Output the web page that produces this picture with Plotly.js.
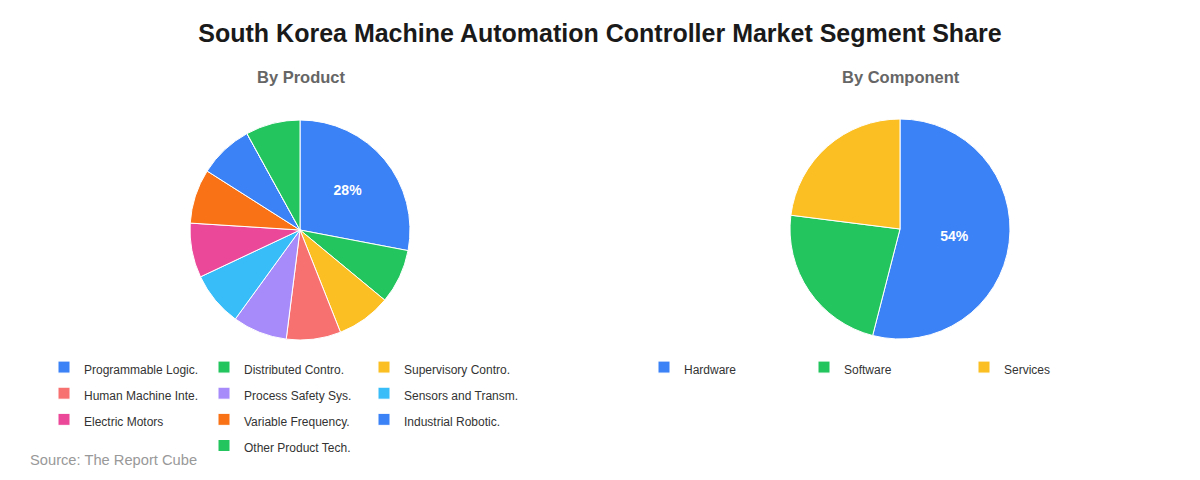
<!DOCTYPE html>
<html>
<head>
<meta charset="utf-8">
<script src="https://cdn.plot.ly/plotly-3.0.1.min.js"></script>
<style>html,body{margin:0;padding:0;background:#fff;}#chart{width:1200px;height:480px;}</style>
</head>
<body>
<div id="chart"></div>
<script>
const productLabels = ["Programmable Logic.", "Distributed Contro.", "Supervisory Contro.", "Human Machine Inte.", "Process Safety Sys.", "Sensors and Transm.", "Electric Motors", "Variable Frequency.", "Industrial Robotic.", "Other Product Tech."];
const productValues = [28, 8, 8, 8, 8, 8, 8, 8, 8, 8];
const productColors = ["#3b82f6", "#22c55e", "#fbbf24", "#f87171", "#a78bfa", "#38bdf8", "#ec4899", "#f97316", "#3b82f6", "#22c55e"];

const componentLabels = ["Hardware", "Software", "Services"];
const componentValues = [54, 23, 23];
const componentColors = ["#3b82f6", "#22c55e", "#fbbf24"];

// page geometry (px)
const W = 1200, H = 480;
const ML = 45, MR = 0;
const GW = W - ML - MR;
const px2x = p => (p - ML) / GW;
const py2y = p => 1 - p / H;
const COLS = 3;

function legendLabels(arr) {
  return arr.map(s => '<span style="font-size:12px">' + s + '</span>');
}
function textTemplates(vals) {
  const mx = Math.max.apply(null, vals);
  return vals.map(v => v === mx ? '%{percent:.0%}' : '');
}
// center the last (incomplete) legend row by inserting invisible zero-size spacer entries
function withRowCentering(labels, values, colors) {
  const rem = labels.length % COLS;
  const L = legendLabels(labels), V = values.slice(), C = colors.slice(), T = textTemplates(values);
  if (rem === 0) return {L, V, C, T};
  const pad = Math.floor((COLS - rem) / 2);
  const at = labels.length - rem;
  for (let i = 0; i < pad; i++) {
    L.splice(at, 0, '\u00a0'.repeat(i + 1));
    V.splice(at, 0, 0);
    C.splice(at, 0, 'rgba(0,0,0,0)');
    T.splice(at, 0, '');
  }
  return {L, V, C, T};
}

const pieFont = {family: 'Liberation Sans, Arial, sans-serif', size: 14, color: '#ffffff', weight: 'bold'};
const prod = withRowCentering(productLabels, productValues, productColors);

const traces = [
  {
    type: 'pie',
    labels: prod.L,
    values: prod.V,
    marker: {colors: prod.C, line: {color: '#ffffff', width: 1}},
    sort: false,
    direction: 'clockwise',
    rotation: 0,
    textposition: 'inside',
    insidetextorientation: 'horizontal',
    texttemplate: prod.T,
    textfont: pieFont,
    domain: {x: [px2x(190), px2x(410)], y: [py2y(340), py2y(120)]},
    legend: 'legend',
    hoverinfo: 'label+percent'
  },
  {
    type: 'pie',
    labels: legendLabels(componentLabels),
    values: componentValues,
    marker: {colors: componentColors, line: {color: '#ffffff', width: 1}},
    sort: false,
    direction: 'clockwise',
    rotation: 0,
    textposition: 'inside',
    insidetextorientation: 'horizontal',
    texttemplate: textTemplates(componentValues),
    textfont: pieFont,
    domain: {x: [px2x(790), px2x(1010)], y: [py2y(339), py2y(119)]},
    legend: 'legend2',
    hoverinfo: 'label+percent'
  }
];

const layout = {
  width: W,
  height: H,
  margin: {l: ML, r: MR, t: 0, b: 0, autoexpand: false},
  paper_bgcolor: '#ffffff',
  font: {family: 'Liberation Sans, Arial, sans-serif', color: '#333333'},
  title: {
    text: '<b>South Korea Machine Automation Controller Market Segment Share</b>',
    font: {size: 25, color: '#1a1a1a', family: 'Liberation Sans, Arial, sans-serif'},
    x: 0.5, xref: 'container', xanchor: 'center', y: 1 - 33/480, yanchor: 'middle', yref: 'container'
  },
  showlegend: true,
  legend: {
    orientation: 'h', x: -1/GW, xanchor: 'left', y: py2y(349), yanchor: 'top',
    entrywidth: 115, entrywidthmode: 'pixels',
    font: {size: 17.8, color: '#333333'}, bgcolor: 'rgba(0,0,0,0)', traceorder: 'normal'
  },
  legend2: {
    orientation: 'h', x: px2x(644), xanchor: 'left', y: py2y(349), yanchor: 'top',
    entrywidth: 115, entrywidthmode: 'pixels',
    font: {size: 17.8, color: '#333333'}, bgcolor: 'rgba(0,0,0,0)', traceorder: 'normal'
  },
  annotations: [
    {text: '<b>By Product</b>', x: px2x(301), y: py2y(77), xref: 'paper', yref: 'paper', showarrow: false, xanchor: 'center', yanchor: 'middle', font: {size: 16.5, color: '#666666'}},
    {text: '<b>By Component</b>', x: px2x(901), y: py2y(77), xref: 'paper', yref: 'paper', showarrow: false, xanchor: 'center', yanchor: 'middle', font: {size: 16.5, color: '#666666'}},
    {text: 'Source: The Report Cube', x: px2x(28), y: py2y(460), xref: 'paper', yref: 'paper', showarrow: false, xanchor: 'left', yanchor: 'middle', font: {size: 14.7, color: '#999999'}}
  ]
};

Plotly.newPlot('chart', traces, layout, {displayModeBar: false, staticPlot: true});
</script>
</body>
</html>
